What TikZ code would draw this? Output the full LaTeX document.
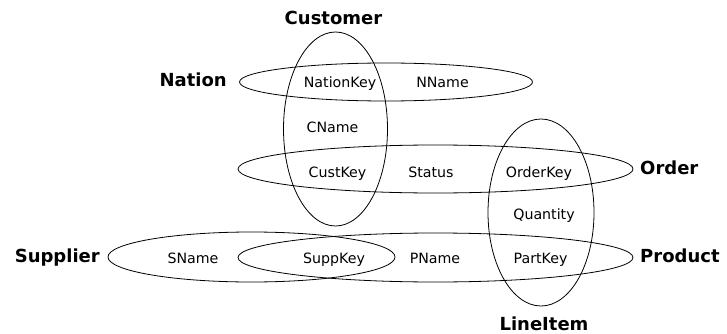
\documentclass[tikz,border=0pt]{standalone}
\usepackage{fontspec}
\setmainfont{DejaVu Sans}
\usetikzlibrary{shapes.geometric}
\tikzset{
  setell/.style={draw=black, line width=0.8pt, ellipse, inner sep=0pt},
  attr/.style={font=\fontsize{14.2}{16}\selectfont, inner sep=0pt, anchor=base},
  relname/.style={font=\fontsize{18}{20}\selectfont\bfseries, inner sep=0pt},
}
\begin{document}
\begin{tikzpicture}[x=1pt,y=-1pt]
\useasboundingbox (0,0) rectangle (727,334);
% sets
\node[setell, minimum width=104pt, minimum height=194pt] (customer) at (335.5,129) {};
\node[setell, minimum width=293pt, minimum height=38pt] (nation) at (386,82) {};
\node[setell, minimum width=395pt, minimum height=48pt] (order) at (435.5,169) {};
\node[setell, minimum width=106pt, minimum height=187pt] (lineitem) at (541,212.5) {};
\node[setell, minimum width=287pt, minimum height=50pt] (supplier) at (251.5,257) {};
\node[setell, minimum width=395pt, minimum height=49pt] (product) at (435.5,257.5) {};
% set names
\node[relname, anchor=base] (lcustomer) at (333.5,25) {Customer};
\node[relname, anchor=base east] (lnation) at (227,87) {Nation};
\node[relname, anchor=base west] (lorder) at (640,174) {Order};
\node[relname, anchor=base east] (lsupplier) at (100,262) {Supplier};
\node[relname, anchor=base west] (lproduct) at (640,262) {Product};
\node[relname, anchor=base] (llineitem) at (544,330) {LineItem};
% attributes
\node[attr] (nationkey) at (340,88) {NationKey};
\node[attr] (nname) at (442.5,88) {NName};
\node[attr] (cname) at (332.5,132) {CName};
\node[attr] (custkey) at (337.5,177) {CustKey};
\node[attr] (status) at (431,177) {Status};
\node[attr] (orderkey) at (539,177) {OrderKey};
\node[attr] (quantity) at (544,219) {Quantity};
\node[attr] (sname) at (193,263) {SName};
\node[attr] (suppkey) at (334,263) {SuppKey};
\node[attr] (pname) at (435,263) {PName};
\node[attr] (partkey) at (540.5,263) {PartKey};
\end{tikzpicture}
\end{document}
